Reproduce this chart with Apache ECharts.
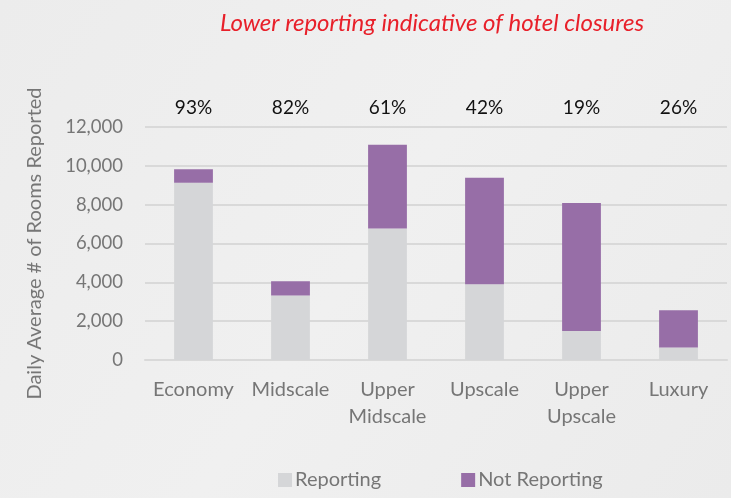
<!DOCTYPE html>
<html>
<head>
<meta charset="utf-8">
<script src="https://cdn.jsdelivr.net/npm/echarts@6/dist/echarts.min.js"></script>
<style>
  html, body { margin: 0; padding: 0; background: #eeeeee; }
  #chart { width: 731px; height: 498px; }
</style>
</head>
<body>
<div id="chart"></div>
<script>
// categories and values
var categories = ['Economy', 'Midscale', 'Upper\nMidscale', 'Upscale', 'Upper\nUpscale', 'Luxury']
var reporting = [9130, 3320, 6770, 3900, 1500, 650]
var notReporting = [700, 740, 4320, 5490, 6580, 1910]
var pctLabels = ['93%', '82%', '61%', '42%', '19%', '26%']
var yTicks = [0, 2000, 4000, 6000, 8000, 10000, 12000]

var axisGray = '#767676'
var chart = echarts.init(document.getElementById('chart'))

chart.setOption({
  backgroundColor: {
    type: 'linear', x: 0, y: 0, x2: 1, y2: 1,
    colorStops: [
      { offset: 0, color: '#ececec' },
      { offset: 0.5, color: '#f0f0f0' },
      { offset: 1, color: '#ebebeb' }
    ]
  },
  animation: false,
  title: {
    text: 'Lower reporting indicative of hotel closures',
    left: 427,
    textAlign: 'center',
    top: 6,
    textStyle: {
      color: '#e8202a',
      fontStyle: 'italic',
      fontWeight: 'normal',
      fontFamily: 'Lato',
      fontSize: 24
    }
  },
  legend: {
    bottom: 3,
    left: 273,
    icon: 'rect',
    itemWidth: 14,
    itemHeight: 14,
    itemGap: 80,
    textStyle: { color: axisGray, fontSize: 20, fontFamily: 'Lato', padding: [0, 0, 0, -2] },
    data: ['Reporting', 'Not Reporting']
  },
  grid: {
    left: 145,
    right: 4,
    top: 127,
    height: 233
  },
  xAxis: [
    {
      type: 'category',
      data: categories,
      axisLine: { lineStyle: { color: '#d9d9d9', width: 2 } },
      axisTick: { show: false },
      axisLabel: {
        color: axisGray,
        fontSize: 20,
        fontFamily: 'Lato',
        lineHeight: 27,
        margin: 16,
        interval: 0
      }
    },
    {
      type: 'category',
      position: 'top',
      data: pctLabels,
      axisLine: { show: false },
      axisTick: { show: false },
      axisLabel: {
        color: '#111111',
        fontSize: 19,
        fontFamily: 'Lato',
        margin: 10,
        interval: 0
      }
    }
  ],
  yAxis: {
    type: 'value',
    min: yTicks[0],
    max: yTicks[yTicks.length - 1],
    interval: 2000,
    name: 'Daily Average # of Rooms Reported',
    nameLocation: 'middle',
    nameGap: 100,
    nameTextStyle: { color: axisGray, fontSize: 20, fontFamily: 'Lato' },
    axisLine: { show: false },
    axisTick: { show: false },
    axisLabel: {
      color: axisGray,
      fontSize: 18.5,
      fontFamily: 'Lato',
      margin: 22,
      formatter: function (v) { return v.toLocaleString('en-US') }
    },
    splitLine: { lineStyle: { color: '#d9d9d9', width: 2 } }
  },
  series: [
    {
      name: 'Reporting',
      type: 'bar',
      stack: 'total',
      barWidth: '40%',
      itemStyle: { color: '#d5d6d8' },
      data: reporting
    },
    {
      name: 'Not Reporting',
      type: 'bar',
      stack: 'total',
      barWidth: '40%',
      itemStyle: { color: '#976ea7' },
      data: notReporting
    }
  ]
})
</script>
</body>
</html>
